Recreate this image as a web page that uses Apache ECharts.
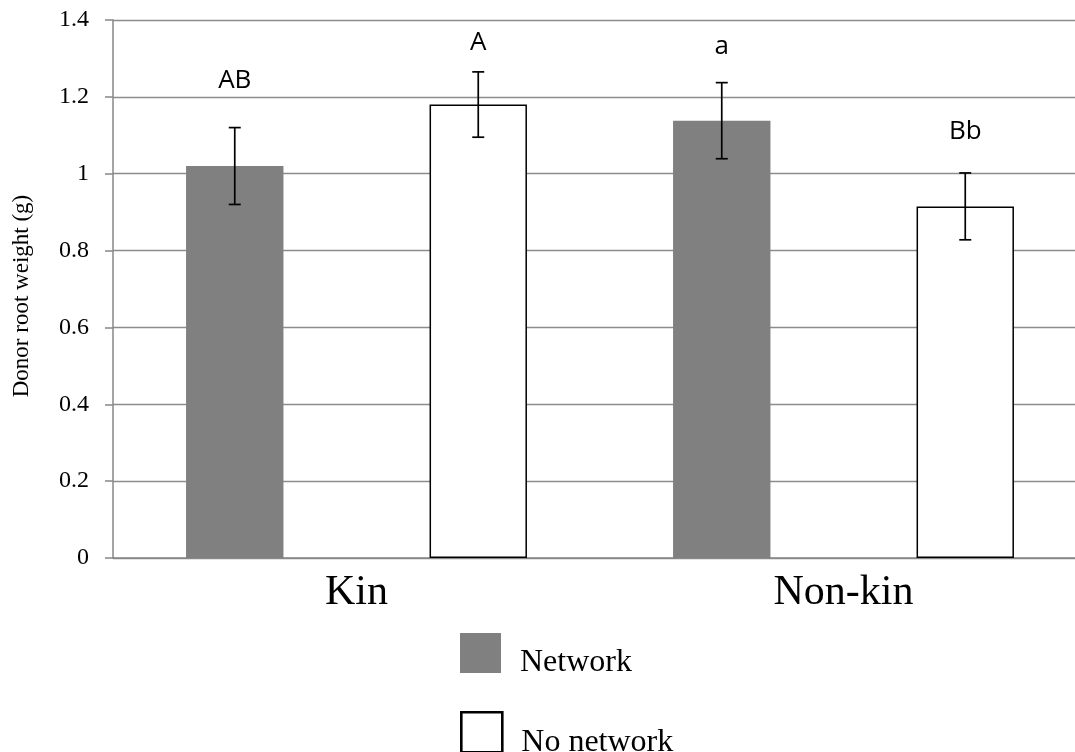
<!DOCTYPE html>
<html>
<head>
<meta charset="utf-8">
<style>
  html, body { margin: 0; padding: 0; background: #ffffff; overflow: hidden; }
  /* the plot runs a little past the right edge of the window */
  #chart { width: 1087px; height: 752px; }
</style>
<script src="https://cdn.jsdelivr.net/npm/echarts@6/dist/echarts.min.js"></script>
</head>
<body>
<div id="chart"></div>
<script>
// Donor root weight by relatedness and network treatment
const categories = ['Kin', 'Non-kin'];
const seriesNames = ['Network', 'No network'];
const networkValues = [1.02, 1.138];
const networkErrors = [0.10, 0.099];
const noNetworkValues = [1.18, 0.915];
const noNetworkErrors = [0.085, 0.087];
const networkLetters = ['AB', 'a'];
const noNetworkLetters = ['A', 'Bb'];
const yTicks = { min: 0, max: 1.4, interval: 0.2 };

// letter placement above each error-bar cap, in pixels
const networkLetterGap = [34, 23];
const noNetworkLetterGap = [16, 28];

const serif = '"Liberation Serif", "Times New Roman", serif';
const sans = '"Open Sans", "Noto Sans", sans-serif';

const chart = echarts.init(document.getElementById('chart'), null, { renderer: 'canvas' });

// error bar with caps plus the significance letter, shifted to its bar's slot
function errorBarRenderer(values, errors, letters, gaps, slot) {
  return function (params, api) {
    const i = api.value(0);
    const catWidth = api.size([1, 0])[0];
    const dx = slot * catWidth * 0.25;
    const hi = api.coord([i, values[i] + errors[i]]);
    const lo = api.coord([i, values[i] - errors[i]]);
    const x = hi[0] + dx;
    const cap = 6;
    const style = { stroke: '#000', lineWidth: 1.7 };
    return {
      type: 'group',
      children: [
        { type: 'line', shape: { x1: x, y1: hi[1], x2: x, y2: lo[1] }, style },
        { type: 'line', shape: { x1: x - cap, y1: hi[1], x2: x + cap, y2: hi[1] }, style },
        { type: 'line', shape: { x1: x - cap, y1: lo[1], x2: x + cap, y2: lo[1] }, style },
        {
          type: 'text',
          x: x,
          y: hi[1] - gaps[i],
          style: {
            text: letters[i],
            fill: '#000',
            font: '26px ' + sans,
            textAlign: 'center',
            textVerticalAlign: 'bottom'
          }
        }
      ]
    };
  };
}

function legendBlock(name, top, itemStyle) {
  return {
    orient: 'vertical',
    left: 460,
    top: top,
    padding: 0,
    itemWidth: 41,
    itemHeight: 40,
    icon: 'rect',
    formatter: n => '{t|' + n + '}',
    textStyle: {
      rich: {
        t: { fontFamily: serif, fontSize: 32, color: '#000', padding: [20, 0, 0, 14] }
      }
    },
    data: [itemStyle ? { name: name, itemStyle: itemStyle } : { name: name }]
  };
}

const option = {
  backgroundColor: '#ffffff',
  animation: false,
  grid: { left: 113, top: 20, width: 974, height: 538 },
  legend: [
    legendBlock(seriesNames[0], 633),
    legendBlock(seriesNames[1], 711, { borderWidth: 2.6 })
  ],
  xAxis: {
    type: 'category',
    data: categories,
    axisLine: { show: true, lineStyle: { color: '#878787', width: 1.5 } },
    axisTick: { show: false },
    axisLabel: { fontFamily: serif, fontSize: 42, color: '#000', margin: 14 },
    splitLine: { show: false }
  },
  yAxis: {
    type: 'value',
    min: yTicks.min,
    max: yTicks.max,
    interval: yTicks.interval,
    name: 'Donor root weight (g)',
    nameLocation: 'middle',
    nameGap: 80,
    nameTextStyle: { fontFamily: serif, fontSize: 23, color: '#000', padding: [0, 14, 0, 0] },
    axisLine: { show: true, lineStyle: { color: '#878787', width: 1.5 } },
    axisTick: { show: true, inside: false, length: 8, lineStyle: { color: '#878787', width: 1.5 } },
    axisLabel: { fontFamily: serif, fontSize: 24, color: '#000', margin: 24 },
    splitLine: { show: true, lineStyle: { color: '#8c8c8c', width: 1.4 } }
  },
  series: [
    {
      name: seriesNames[0],
      type: 'bar',
      data: networkValues,
      barWidth: '20%',
      barGap: '150%',
      itemStyle: { color: '#808080' }
    },
    {
      name: seriesNames[1],
      type: 'bar',
      data: noNetworkValues,
      barWidth: '20%',
      barGap: '150%',
      itemStyle: { color: '#ffffff', borderColor: '#000', borderWidth: 1.5 }
    },
    {
      type: 'custom',
      data: categories.map((c, i) => [i]),
      renderItem: errorBarRenderer(networkValues, networkErrors, networkLetters, networkLetterGap, -1),
      z: 5
    },
    {
      type: 'custom',
      data: categories.map((c, i) => [i]),
      renderItem: errorBarRenderer(noNetworkValues, noNetworkErrors, noNetworkLetters, noNetworkLetterGap, 1),
      z: 5
    }
  ]
};

chart.setOption(option);
</script>
</body>
</html>
